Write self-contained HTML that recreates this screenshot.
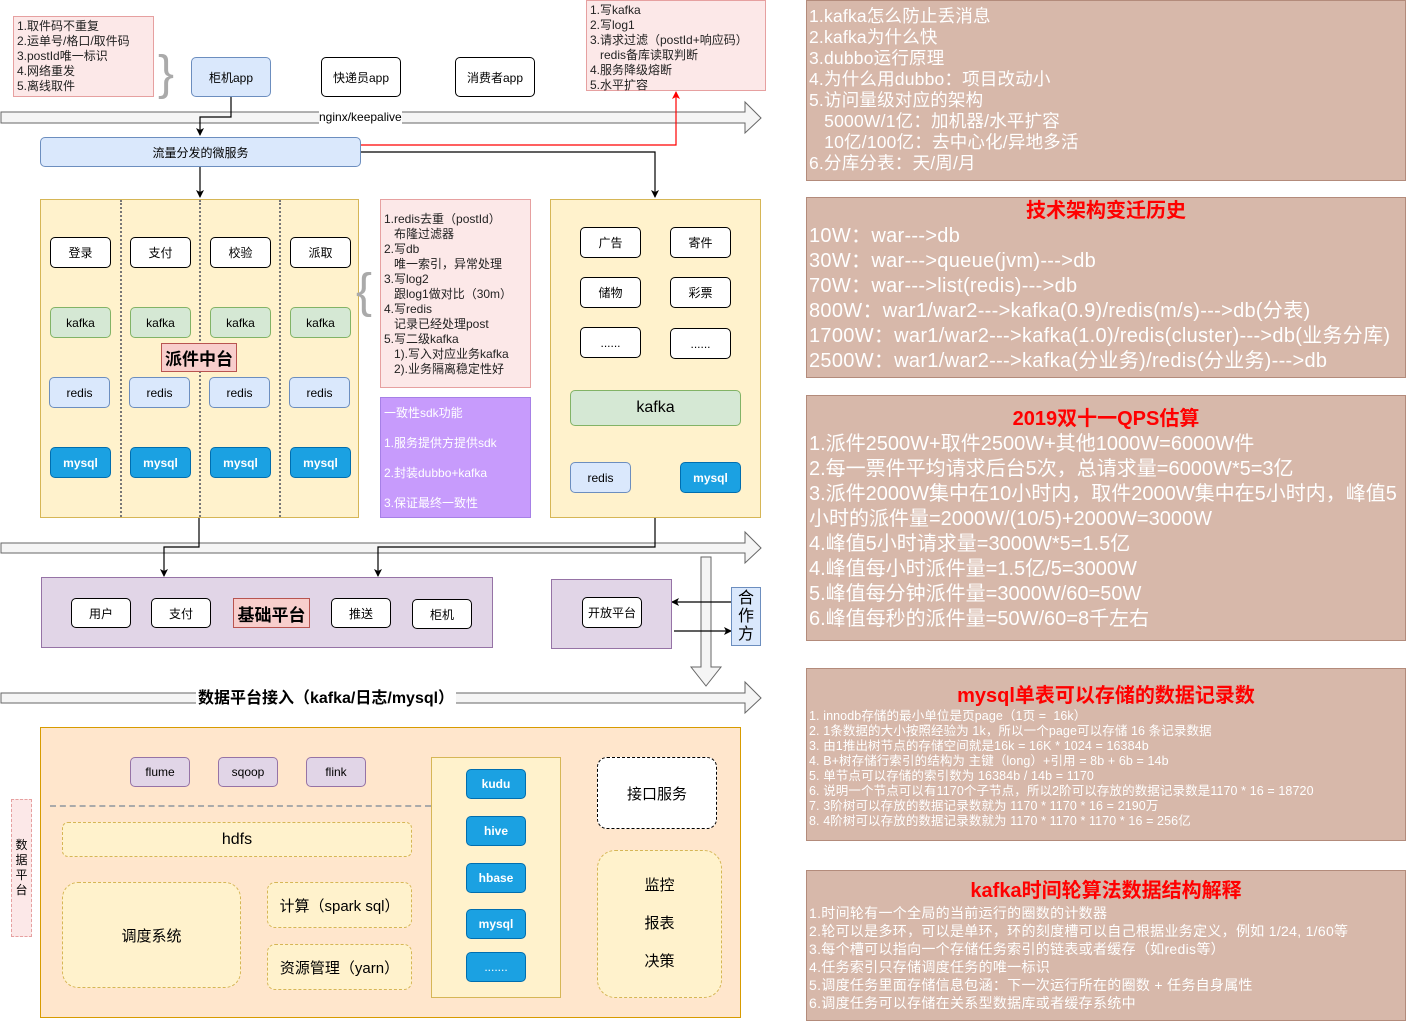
<!DOCTYPE html>
<html><head><meta charset="utf-8"><style>
*{margin:0;padding:0;box-sizing:border-box}
body{width:1406px;height:1021px;position:relative;background:#fff;font-family:"Liberation Sans","Noto Sans CJK SC",sans-serif;overflow:hidden;color:#000}
.a{position:absolute}
.c{position:absolute;display:flex;align-items:center;justify-content:center;text-align:center;font-size:12px}
.w{background:#fff;border:1px solid #000;border-radius:5px}
.g{background:#d5e8d4;border:1px solid #82b366;border-radius:5px}
.b{background:#dae8fc;border:1px solid #6c8ebf;border-radius:5px}
.m{background:#1ba1e2;border:1px solid #006eaf;border-radius:5px;color:#fff;font-weight:bold}
.p{background:#e1d5e7;border:1px solid #9673a6;border-radius:5px}
.y{background:#fff2cc;border:1px solid #d6b656}
.yd{background:#fff2cc;border:1px dashed #d6b656}
.note{position:absolute;background:#fce8e8;border:1px solid #e6a0a0;font-size:12px;line-height:15px;padding:2px 3px;color:#222;white-space:pre}
.r{position:absolute;background:#d7b8aa;border:1px solid #b38b7b;color:#fff;white-space:pre}
.t{color:#f00;font-weight:bold;text-align:center;font-size:20px;letter-spacing:0}
</style></head><body>

<div class="note" style="left:13px;top:16px;width:141px;height:81px">1.取件码不重复
2.运单号/格口/取件码
3.postId唯一标识
4.网络重发
5.离线取件</div>
<div class="a" style="left:158px;top:44px;font-size:48px;color:#aaa;line-height:60px">}</div>
<div class="c b" style="left:191px;top:57px;width:80px;height:40px">柜机app</div>
<div class="c w" style="left:321px;top:57px;width:80px;height:40px">快递员app</div>
<div class="c w" style="left:455px;top:57px;width:80px;height:40px">消费者app</div>
<div class="note" style="left:586px;top:0;width:180px;height:91px">1.写kafka
2.写log1
3.请求过滤（postId+响应码）
   redis备库读取判断
4.服务降级熔断
5.水平扩容</div>

<svg class="a" style="left:0;top:0" width="1406" height="1021">
<defs><marker id="ar" markerWidth="8" markerHeight="8" refX="7" refY="4" orient="auto" markerUnits="userSpaceOnUse"><path d="M0,0 L8,4 L0,8 L2,4z" fill="#000"/></marker>
<marker id="rr" markerWidth="8" markerHeight="8" refX="7" refY="4" orient="auto" markerUnits="userSpaceOnUse"><path d="M0,0 L8,4 L0,8 L2,4z" fill="#f00"/></marker></defs>
<g fill="#f5f5f5" stroke="#666">
<polygon points="1,112 745,112 745,102 761,118 745,133 745,123 1,123"/>
<polygon points="1,543 745,543 745,532 761,548 745,563 745,553 1,553"/>
<polygon points="1,693 745,693 745,682 761,698 745,713 745,703 1,703"/>
<polygon points="701,557 711,557 711,667 721,667 706,686 691,667 701,667"/>
</g>
<g fill="none" stroke="#000" stroke-width="1.2">
<path d="M231,97 V117 H200 V135" marker-end="url(#ar)"/>
<path d="M200,167 V197" marker-end="url(#ar)"/>
<path d="M361,152 H655 V197" marker-end="url(#ar)"/>
<path d="M199,517 V547 H164 V576" marker-end="url(#ar)"/>
<path d="M655,517 V547 H378 V576" marker-end="url(#ar)"/>
<path d="M733,602 H672" marker-end="url(#ar)"/>
<path d="M674,631 H731" marker-end="url(#ar)"/>
<path d="M159,787 V821" marker-end="url(#ar)"/>
<path d="M247,787 V821" marker-end="url(#ar)"/>
<path d="M336,787 V821" marker-end="url(#ar)"/>
<path d="M366,772 H399 V787 H464" marker-end="url(#ar)"/>
</g>
<path d="M361,145 H676 V92" fill="none" stroke="#f00" stroke-width="1.2" marker-end="url(#rr)"/>
</svg>
<div class="a" style="left:319px;top:110px;background:#fff;font-size:12px;line-height:14px">nginx/keepalive</div>
<div class="c b" style="left:40px;top:137px;width:321px;height:30px">流量分发的微服务</div>

<div class="a y" style="left:40px;top:199px;width:319px;height:319px"></div>
<div class="a" style="left:120px;top:200px;height:317px;border-left:2px dotted #777"></div>
<div class="a" style="left:199px;top:200px;height:317px;border-left:2px dotted #777"></div>
<div class="a" style="left:279px;top:200px;height:317px;border-left:2px dotted #777"></div>
<div class="c w" style="left:50px;top:237px;width:61px;height:31px">登录</div>
<div class="c w" style="left:130px;top:237px;width:61px;height:31px">支付</div>
<div class="c w" style="left:210px;top:237px;width:61px;height:31px">校验</div>
<div class="c w" style="left:290px;top:237px;width:61px;height:31px">派取</div>
<div class="c g" style="left:50px;top:307px;width:61px;height:31px">kafka</div>
<div class="c g" style="left:130px;top:307px;width:61px;height:31px">kafka</div>
<div class="c g" style="left:210px;top:307px;width:61px;height:31px">kafka</div>
<div class="c g" style="left:290px;top:307px;width:61px;height:31px">kafka</div>
<div class="c" style="left:161px;top:343px;width:76px;height:29px;background:#f8cecc;border:1px solid #b85450;font-size:17px;font-weight:bold">派件中台</div>
<div class="c b" style="left:49px;top:377px;width:61px;height:31px">redis</div>
<div class="c b" style="left:129px;top:377px;width:61px;height:31px">redis</div>
<div class="c b" style="left:209px;top:377px;width:61px;height:31px">redis</div>
<div class="c b" style="left:289px;top:377px;width:61px;height:31px">redis</div>
<div class="c m" style="left:50px;top:447px;width:61px;height:31px">mysql</div>
<div class="c m" style="left:130px;top:447px;width:61px;height:31px">mysql</div>
<div class="c m" style="left:210px;top:447px;width:61px;height:31px">mysql</div>
<div class="c m" style="left:290px;top:447px;width:61px;height:31px">mysql</div>

<div class="a" style="left:356px;top:262px;font-size:48px;color:#aaa;line-height:60px">{</div>
<div class="note" style="left:380px;top:199px;width:151px;height:189px;padding-top:12px">1.redis去重（postId）
   布隆过滤器
2.写db
   唯一索引，异常处理
3.写log2
   跟log1做对比（30m）
4.写redis
   记录已经处理post
5.写二级kafka
   1).写入对应业务kafka
   2).业务隔离稳定性好</div>
<div class="a" style="left:380px;top:397px;width:151px;height:121px;background:#c79bfc;border:1px solid #a680e6;color:#fff;font-size:12px;line-height:30px;padding-left:3px;white-space:pre">一致性sdk功能
1.服务提供方提供sdk
2.封装dubbo+kafka
3.保证最终一致性</div>

<div class="a y" style="left:550px;top:199px;width:211px;height:319px"></div>
<div class="c w" style="left:580px;top:227px;width:61px;height:31px">广告</div>
<div class="c w" style="left:670px;top:227px;width:61px;height:31px">寄件</div>
<div class="c w" style="left:580px;top:277px;width:61px;height:31px">储物</div>
<div class="c w" style="left:670px;top:277px;width:61px;height:31px">彩票</div>
<div class="c w" style="left:580px;top:327px;width:61px;height:31px">......</div>
<div class="c w" style="left:670px;top:328px;width:61px;height:31px">......</div>
<div class="c g" style="left:570px;top:390px;width:171px;height:36px;font-size:16px">kafka</div>
<div class="c b" style="left:570px;top:462px;width:61px;height:31px">redis</div>
<div class="c m" style="left:680px;top:462px;width:61px;height:31px">mysql</div>

<div class="a p" style="left:41px;top:577px;width:452px;height:71px;border-radius:0"></div>
<div class="c w" style="left:71px;top:598px;width:60px;height:30px">用户</div>
<div class="c w" style="left:151px;top:598px;width:60px;height:30px">支付</div>
<div class="c" style="left:233px;top:598px;width:77px;height:30px;background:#f8cecc;border:1px solid #b85450;font-size:17px;font-weight:bold">基础平台</div>
<div class="c w" style="left:331px;top:598px;width:60px;height:30px">推送</div>
<div class="c w" style="left:412px;top:599px;width:60px;height:30px">柜机</div>
<div class="a p" style="left:551px;top:579px;width:121px;height:70px;border-radius:0"></div>
<div class="c w" style="left:582px;top:597px;width:60px;height:31px">开放平台</div>
<div class="c" style="left:731px;top:587px;width:30px;height:59px;background:#dae8fc;border:1px solid #6c8ebf;font-size:16px;line-height:18px">合<br>作<br>方</div>
<div class="a" style="left:196px;top:688px;background:#fff;font-size:16px;line-height:22px;font-weight:bold;padding:0 2px">数据平台接入（kafka/日志/mysql）</div>

<div class="a" style="left:40px;top:727px;width:701px;height:291px;background:#ffe6cc;border:1px solid #d79b00"></div>
<div class="c" style="left:11px;top:799px;width:21px;height:138px;background:#fce8e8;border:1px dashed #e6a0a0;font-size:12px;line-height:15px">数<br>据<br>平<br>台</div>
<div class="a" style="left:50px;top:805px;width:381px;border-top:2px dashed #aaa"></div>
<div class="c p" style="left:130px;top:757px;width:60px;height:30px">flume</div>
<div class="c p" style="left:218px;top:757px;width:60px;height:30px">sqoop</div>
<div class="c p" style="left:306px;top:757px;width:60px;height:30px">flink</div>
<div class="c yd" style="left:62px;top:822px;width:350px;height:35px;border-radius:6px;font-size:16px">hdfs</div>
<div class="c yd" style="left:62px;top:882px;width:179px;height:106px;border-radius:16px;font-size:15px">调度系统</div>
<div class="c yd" style="left:267px;top:882px;width:145px;height:46px;border-radius:8px;font-size:15px">计算（spark sql）</div>
<div class="c yd" style="left:267px;top:944px;width:145px;height:46px;border-radius:8px;font-size:15px">资源管理（yarn）</div>
<div class="a y" style="left:431px;top:757px;width:130px;height:241px"></div>
<div class="c m" style="left:466px;top:769px;width:60px;height:30px">kudu</div>
<div class="c m" style="left:466px;top:816px;width:60px;height:30px">hive</div>
<div class="c m" style="left:466px;top:863px;width:60px;height:30px">hbase</div>
<div class="c m" style="left:466px;top:909px;width:60px;height:30px">mysql</div>
<div class="c m" style="left:466px;top:952px;width:60px;height:30px;font-weight:normal">.......</div>
<div class="c" style="left:597px;top:757px;width:120px;height:72px;background:#fff;border:1px dashed #000;border-radius:10px;font-size:15px">接口服务</div>
<div class="c yd" style="left:597px;top:850px;width:125px;height:148px;border-radius:18px;font-size:15px;line-height:38px">监控<br>报表<br>决策</div>

<div class="r" style="left:806px;top:0;width:600px;height:181px;font-size:17.5px;line-height:21px;padding:5px 2px;letter-spacing:0.2px">1.kafka怎么防止丢消息
2.kafka为什么快
3.dubbo运行原理
4.为什么用dubbo：项目改动小
5.访问量级对应的架构
   5000W/1亿：加机器/水平扩容
   10亿/100亿：去中心化/异地多活
6.分库分表：天/周/月</div>
<div class="r" style="left:806px;top:197px;width:600px;height:181px;font-size:20px;line-height:25px;padding:1px 2px;letter-spacing:0.3px"><div class="t">技术架构变迁历史</div>10W：war---&gt;db
30W：war---&gt;queue(jvm)---&gt;db
70W：war---&gt;list(redis)---&gt;db
800W：war1/war2---&gt;kafka(0.9)/redis(m/s)---&gt;db(分表)
1700W：war1/war2---&gt;kafka(1.0)/redis(cluster)---&gt;db(业务分库)
2500W：war1/war2---&gt;kafka(分业务)/redis(分业务)---&gt;db</div>
<div class="r" style="left:806px;top:395px;width:600px;height:246px;font-size:20px;line-height:25px;padding:10px 2px 0;white-space:normal"><div class="t" style="line-height:26px">2019双十一QPS估算</div>1.派件2500W+取件2500W+其他1000W=6000W件<br>2.每一票件平均请求后台5次，总请求量=6000W*5=3亿<br>3.派件2000W集中在10小时内，取件2000W集中在5小时内，峰值5小时的派件量=2000W/(10/5)+2000W=3000W<br>4.峰值5小时请求量=3000W*5=1.5亿<br>4.峰值每小时派件量=1.5亿/5=3000W<br>5.峰值每分钟派件量=3000W/60=50W<br>6.峰值每秒的派件量=50W/60=8千左右</div>
<div class="r" style="left:806px;top:668px;width:600px;height:173px;font-size:12.5px;line-height:15px;padding:14px 2px 0;letter-spacing:0.1px"><div class="t" style="line-height:26px">mysql单表可以存储的数据记录数</div>1. innodb存储的最小单位是页page（1页 =  16k）
2. 1条数据的大小按照经验为 1k，所以一个page可以存储 16 条记录数据
3. 由1推出树节点的存储空间就是16k = 16K * 1024 = 16384b
4. B+树存储行索引的结构为 主键（long）+引用 = 8b + 6b = 14b
5. 单节点可以存储的索引数为 16384b / 14b = 1170
6. 说明一个节点可以有1170个子节点，所以2阶可以存放的数据记录数是1170 * 16 = 18720
7. 3阶树可以存放的数据记录数就为 1170 * 1170 * 16 = 2190万
8. 4阶树可以存放的数据记录数就为 1170 * 1170 * 1170 * 16 = 256亿</div>
<div class="r" style="left:806px;top:870px;width:600px;height:151px;font-size:14px;line-height:18px;padding:7px 2px 0;letter-spacing:0.3px"><div class="t" style="line-height:26px">kafka时间轮算法数据结构解释</div>1.时间轮有一个全局的当前运行的圈数的计数器
2.轮可以是多环，可以是单环，环的刻度槽可以自己根据业务定义，例如 1/24, 1/60等
3.每个槽可以指向一个存储任务索引的链表或者缓存（如redis等）
4.任务索引只存储调度任务的唯一标识
5.调度任务里面存储信息包涵：下一次运行所在的圈数 + 任务自身属性
6.调度任务可以存储在关系型数据库或者缓存系统中</div>
</body></html>
